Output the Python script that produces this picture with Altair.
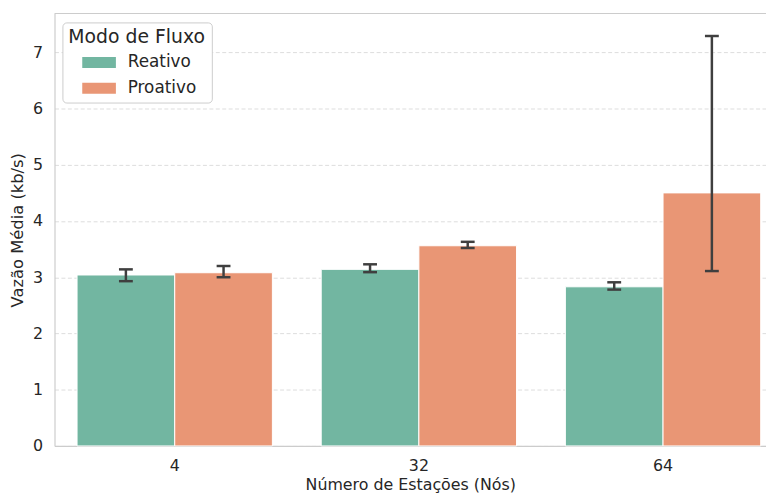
import altair as alt
import pandas as pd

nodes = ["4", "32", "64"]
modes = ["Reativo", "Proativo"]
mean_reativo = [3.04, 3.14, 2.83]
low_reativo = [2.93, 3.09, 2.78]
high_reativo = [3.14, 3.23, 2.91]
mean_proativo = [3.08, 3.56, 4.50]
low_proativo = [3.00, 3.52, 3.11]
high_proativo = [3.20, 3.63, 7.29]

rows = []
for i, n in enumerate(nodes):
    rows.append({"nodes": n, "mode": "Reativo", "mean": mean_reativo[i], "lo": low_reativo[i], "hi": high_reativo[i]})
    rows.append({"nodes": n, "mode": "Proativo", "mean": mean_proativo[i], "lo": low_proativo[i], "hi": high_proativo[i]})
df = pd.DataFrame(rows)

W = 719
H = 437
font = "DejaVu Sans"
txt = "#262626"
x = alt.X("nodes:N", sort=nodes, title="Número de Estações (Nós)",
          scale=alt.Scale(paddingInner=0.2, paddingOuter=0.057, align=0.81),
          axis=alt.Axis(labelAngle=0, ticks=False, domain=True, domainColor="#cccccc",
                        domainWidth=1.2, grid=False,
                        labelFontSize=16, titleFontSize=16, labelPadding=12,
                        titlePadding=3, labelColor=txt, titleColor=txt,
                        titleFontWeight="normal"))
xo = alt.XOffset("mode:N", sort=modes, scale=alt.Scale(paddingInner=0, paddingOuter=0))
yscale = alt.Scale(domain=[0, 7.69], nice=False, zero=True)

bars = alt.Chart(df).mark_bar(stroke="white", strokeWidth=1).encode(
    x=x, xOffset=xo,
    y=alt.Y("mean:Q", scale=yscale, title="Vazão Média (kb/s)",
            axis=alt.Axis(values=[0, 1, 2, 3, 4, 5, 6, 7], format="d", ticks=False,
                          domain=True, domainColor="#cccccc", domainWidth=1.2,
                          grid=True, gridDash=[4, 2.5], gridColor="#dddddd",
                          labelFontSize=16, titleFontSize=16.5, labelPadding=12,
                          titlePadding=7, labelColor=txt, titleColor=txt,
                          titleFontWeight="normal")),
    color=alt.Color("mode:N", sort=modes,
                    scale=alt.Scale(domain=modes, range=["#72b6a1", "#e99675"]),
                    legend=alt.Legend(title="Modo de Fluxo", orient="none",
                                      legendX=8, legendY=9,
                                      symbolType="M-0.29,-0.65H3.71V0.65H-0.29Z",
                                      symbolSize=289, symbolStrokeWidth=0,
                                      symbolOpacity=1,
                                      titleFontSize=19, labelFontSize=17,
                                      titleFontWeight="normal", titleColor=txt,
                                      titleAnchor="middle",
                                      labelColor=txt, padding=6,
                                      strokeColor="#cccccc", fillColor="white",
                                      cornerRadius=4, rowPadding=8, labelOffset=35,
                                      titlePadding=7)),
)

rules = alt.Chart(df).mark_rule(color="#3f3f3f", strokeWidth=2.5).encode(
    x=x, xOffset=xo, y="lo:Q", y2="hi:Q")
caps_lo = alt.Chart(df).mark_tick(color="#3f3f3f", thickness=2.5, size=14, opacity=1).encode(
    x=x, xOffset=xo, y=alt.Y("lo:Q", scale=yscale))
caps_hi = alt.Chart(df).mark_tick(color="#3f3f3f", thickness=2.5, size=14, opacity=1).encode(
    x=x, xOffset=xo, y=alt.Y("hi:Q", scale=yscale))

top_border = alt.Chart(pd.DataFrame({"a": [0]})).mark_rule(
    color="#cccccc", strokeWidth=1.2).encode(
    x=alt.value(0), x2=alt.value(W), y=alt.value(0))

chart = alt.layer(bars, rules, caps_lo, caps_hi, top_border).properties(
    width=W, height=H,
    autosize=alt.AutoSizeParams(type="none"),
    padding={"left": 47, "top": 3, "right": 0, "bottom": 46},
).configure(font=font, background="white").configure_view(stroke=None)

chart.save("out.html", embed_options={"renderer": "svg", "actions": False})
